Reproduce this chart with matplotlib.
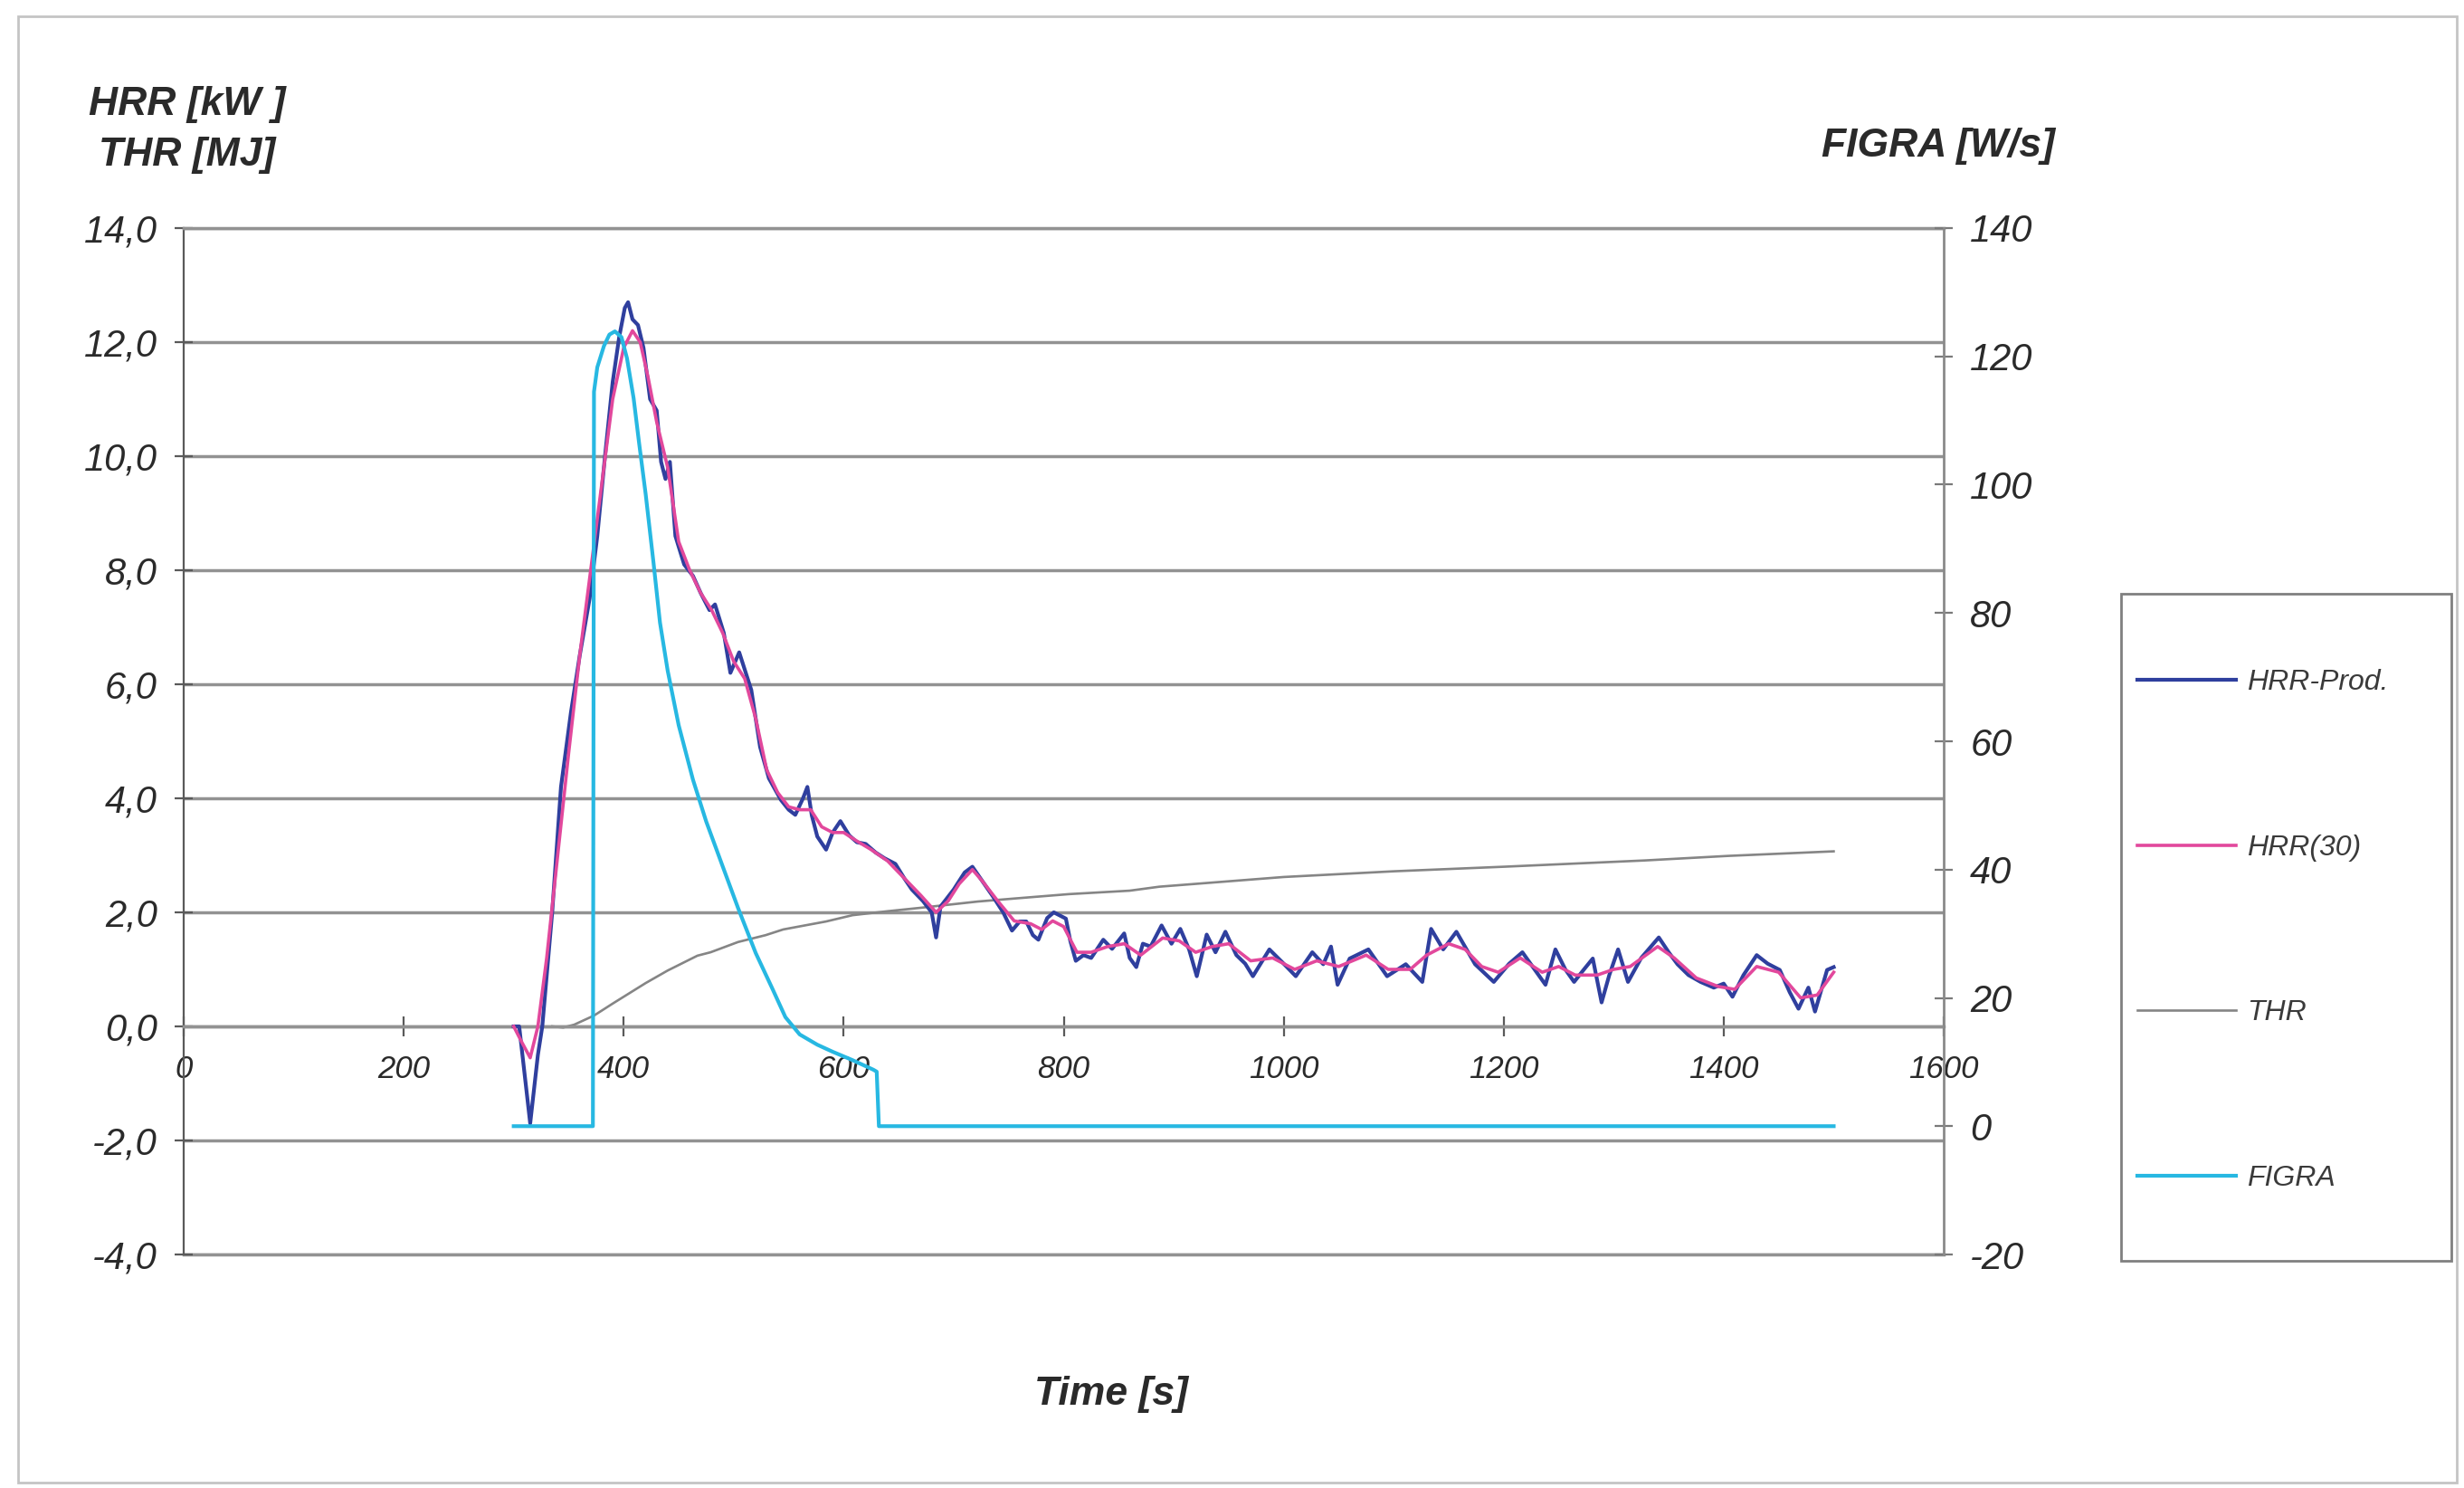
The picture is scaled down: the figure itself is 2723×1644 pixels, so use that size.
import matplotlib
matplotlib.use('Agg')
import matplotlib.pyplot as plt
from matplotlib.ticker import FuncFormatter, MultipleLocator
from matplotlib.patches import Rectangle

plt.rcParams['font.family'] = ['Liberation Sans', 'DejaVu Sans']
plt.rcParams['font.style'] = 'italic'

# ---------------- data ----------------
hrr_t = [300, 305, 315, 322, 326, 335, 343, 352, 360, 369, 376, 383, 390, 396, 401, 404, 408,
         413, 418, 424, 430, 434, 438, 442, 447, 455, 463, 470, 478, 483, 491, 497, 505, 511,
         516, 524, 532, 543, 550, 556, 563, 567, 571, 576, 584, 590, 597, 605, 612, 620, 629,
         637, 647, 655, 662, 672, 680, 684, 688, 700, 710, 717, 726, 736, 745, 753, 760, 766,
         772, 777, 785, 791, 802, 806, 811, 818, 825, 836, 844, 855, 860, 866, 872, 879, 889,
         898, 906, 914, 921, 930, 938, 947, 957, 965, 972, 987, 1000, 1011, 1026, 1036, 1043,
         1049, 1060, 1077, 1094, 1111, 1126, 1134, 1145, 1157, 1174, 1191, 1205, 1217, 1228,
         1238, 1247, 1256, 1264, 1273, 1281, 1289, 1296, 1304, 1313, 1325, 1341, 1350, 1358,
         1368, 1379, 1391, 1400, 1408, 1418, 1430, 1440, 1451, 1460, 1468, 1477, 1483, 1494,
         1500]
hrr_prod = [0.0, 0.0, -1.7, -0.5, 0.0, 2.0, 4.2, 5.5, 6.5, 7.5, 8.6, 10.0, 11.3, 12.1, 12.6,
            12.7, 12.4, 12.3, 11.9, 11.0, 10.8, 9.9, 9.6, 9.9, 8.6, 8.1, 7.9, 7.6, 7.3, 7.4,
            6.9, 6.2, 6.56, 6.2, 5.9, 4.9, 4.35, 3.97, 3.8, 3.71, 4.0, 4.2, 3.7, 3.33, 3.1, 3.4,
            3.6, 3.35, 3.23, 3.2, 3.05, 2.95, 2.85, 2.6, 2.4, 2.2, 2.0, 1.56, 2.1, 2.4, 2.7,
            2.8, 2.55, 2.27, 2.0, 1.68, 1.84, 1.84, 1.6, 1.52, 1.9, 2.0, 1.89, 1.5, 1.15, 1.25,
            1.2, 1.52, 1.36, 1.63, 1.2, 1.04, 1.45, 1.4, 1.77, 1.45, 1.71, 1.35, 0.88, 1.61,
            1.3, 1.66, 1.25, 1.1, 0.88, 1.35, 1.1, 0.88, 1.3, 1.09, 1.4, 0.73, 1.19, 1.35, 0.88,
            1.09, 0.78, 1.71, 1.35, 1.66, 1.09, 0.78, 1.1, 1.3, 1.0, 0.73, 1.35, 1.0, 0.78, 1.0,
            1.19, 0.42, 0.9, 1.35, 0.78, 1.2, 1.56, 1.3, 1.09, 0.9, 0.78, 0.68, 0.75, 0.52, 0.9,
            1.25, 1.1, 0.99, 0.6, 0.31, 0.68, 0.26, 0.99, 1.04]

hrr30_t = [300, 308, 315, 322, 330, 340, 350, 360, 370, 380, 390, 400, 408, 415, 422, 430, 440,
           450, 460, 470, 480, 490, 500, 510, 520, 530, 540, 550, 560, 570, 580, 590, 600, 612,
           625, 640, 655, 670, 684, 695, 705, 717, 726, 740, 755, 770, 780, 790, 800, 812, 825,
           840, 855, 870, 890, 905, 920, 935, 950, 970, 990, 1010, 1030, 1050, 1075, 1095, 1115,
           1130, 1150, 1165, 1180, 1195, 1215, 1235, 1250, 1265, 1285, 1300, 1315, 1340, 1355,
           1375, 1395, 1410, 1430, 1450, 1470, 1485, 1500]
hrr30 = [0.0, -0.3, -0.55, 0.0, 1.2, 3.0, 4.8, 6.5, 8.0, 9.5, 11.0, 11.9, 12.2, 12.0, 11.4, 10.6,
         9.8, 8.5, 8.0, 7.6, 7.3, 6.9, 6.4, 6.1, 5.4, 4.5, 4.1, 3.85, 3.8, 3.8, 3.5, 3.4, 3.4,
         3.25, 3.1, 2.9, 2.6, 2.3, 2.0, 2.2, 2.5, 2.75, 2.55, 2.2, 1.85, 1.8, 1.7, 1.85, 1.75,
         1.3, 1.3, 1.4, 1.45, 1.25, 1.55, 1.5, 1.3, 1.4, 1.45, 1.15, 1.2, 1.0, 1.15, 1.05, 1.25,
         1.0, 1.0, 1.25, 1.45, 1.35, 1.05, 0.95, 1.2, 0.95, 1.05, 0.9, 0.9, 1.0, 1.05, 1.4, 1.2,
         0.85, 0.7, 0.65, 1.05, 0.95, 0.5, 0.55, 0.95]

thr_t = [335, 345, 355, 373, 390, 405, 420, 440, 467, 479, 504, 529, 545, 584, 608, 640, 670,
         722, 760, 805, 860, 887, 1000, 1100, 1200, 1328, 1404, 1500]
thr = [0.0, -0.02, 0.03, 0.19, 0.4, 0.58, 0.76, 0.98, 1.24, 1.3, 1.48, 1.6, 1.7, 1.84, 1.95,
       2.02, 2.08, 2.19, 2.25, 2.32, 2.38, 2.45, 2.62, 2.72, 2.8, 2.91, 2.99, 3.07]

figra_t = [300, 372, 373, 376, 382, 387, 392, 398, 403, 409, 414, 420, 427, 433, 440, 450, 463,
           475, 490, 504, 520, 535, 547, 560, 576, 590, 608, 627, 630, 632, 1500]
figra = [0, 0, 114.5, 118.3, 121.6, 123.4, 123.9, 123.0, 119.7, 113.5, 106.5, 98.5, 88.0, 78.5,
         71.0, 62.5, 54.0, 47.5, 40.5, 34.0, 27.0, 21.5, 17.0, 14.3, 12.7, 11.6, 10.3, 8.8, 8.5,
         0, 0]

labels = ['HRR-Prod.', 'HRR(30)', 'THR', 'FIGRA']
x_ticks = [0, 200, 400, 600, 800, 1000, 1200, 1400, 1600]

# ---------------- styling ----------------
c_blue = '#2f3f9e'
c_pink = '#e2489c'
c_gray = '#858585'
c_cyan = '#27b8e2'
grid_c = '#929292'
txt_c = '#2a2a2a'

W, H = 2723, 1644
fig = plt.figure(figsize=(W / 100, H / 100), dpi=100)
fig.patch.set_facecolor('white')

# outer chart frame
fig.patches.append(Rectangle((20 / W, 6 / H), 2695 / W, 1620 / H,
                             transform=fig.transFigure, fill=False,
                             edgecolor='#c4c4c4', lw=2.0))
# legend frame
fig.patches.append(Rectangle((2344 / W, 1 - 1393 / H), 365 / W, 737 / H,
                             transform=fig.transFigure, fill=False,
                             edgecolor='#808080', lw=2.0))

ax = fig.add_axes([203 / W, 1 - 1386 / H, 1945 / W, 1134 / H])
ax2 = ax.twinx()

ax.set_xlim(0, 1600)
ax.set_ylim(-4, 14)
ax2.set_ylim(-20, 140)

ax.set_axisbelow(True)
ax.yaxis.set_major_locator(MultipleLocator(2))
ax.yaxis.set_major_formatter(FuncFormatter(lambda v, p: f"{v:.1f}".replace('.', ',')))
ax.set_xticks(x_ticks)
ax.set_xticklabels([str(v) for v in x_ticks])
ax2.yaxis.set_major_locator(MultipleLocator(20))
ax2.yaxis.set_major_formatter(FuncFormatter(lambda v, p: f"{int(round(v))}"))

ax.grid(axis='y', color=grid_c, lw=2.5)
ax.grid(axis='x', visible=False)
ax.axhline(-4, color=grid_c, lw=2.5, clip_on=False, zorder=0.5)

# spines
ax.spines['top'].set_color(grid_c)
ax.spines['top'].set_linewidth(2.5)
ax.spines['right'].set_visible(False)
ax.spines['left'].set_color('#5a5a5a')
ax.spines['left'].set_linewidth(1.6)
ax.spines['bottom'].set_position(('data', 0))
ax.spines['bottom'].set_color(grid_c)
ax.spines['bottom'].set_linewidth(2.5)
for s in ['top', 'bottom', 'left']:
    ax2.spines[s].set_visible(False)
ax2.spines['right'].set_color('#8a8a8a')
ax2.spines['right'].set_linewidth(2.0)

ax.tick_params(axis='y', direction='inout', length=14, width=1.6, color='#5a5a5a',
               labelsize=30, labelcolor=txt_c, pad=14)
ax.tick_params(axis='x', direction='inout', length=16, width=1.6, color='#5a5a5a',
               labelsize=25, labelcolor=txt_c, pad=14)
ax2.tick_params(axis='y', direction='inout', length=14, width=1.6, color='#7a7a7a',
                labelsize=30, labelcolor=txt_c, pad=14)

# series
l_thr, = ax.plot(thr_t, thr, color=c_gray, lw=1.9, label=labels[2], zorder=2)
l_prod, = ax.plot(hrr_t, hrr_prod, color=c_blue, lw=3.0, label=labels[0], zorder=3)
l_30, = ax.plot(hrr30_t, hrr30, color=c_pink, lw=2.6, label=labels[1], zorder=4)
l_fig, = ax2.plot(figra_t, figra, color=c_cyan, lw=3.0, label=labels[3], zorder=5)

# axis titles
tkw = dict(ha='center', va='center', fontsize=32, fontweight='bold', color=txt_c)
fig.text(207 / W, 1 - 115 / H, 'HRR [kW ]', **tkw)
fig.text(207 / W, 1 - 172 / H, 'THR [MJ]', **tkw)
fig.text(2142 / W, 1 - 161 / H, 'FIGRA [W/s]', **tkw)
fig.text(1228 / W, 1 - 1540 / H, 'Time [s]', **tkw)

# legend (entries; frame drawn above)
leg = fig.legend([l_prod, l_30, l_thr, l_fig], labels,
                 loc='upper left', bbox_to_anchor=(2362 / W, 1 - 739 / H),
                 fontsize=23, frameon=False, borderpad=0,
                 labelspacing=4.78, handlelength=3.4, handletextpad=0.38,
                 borderaxespad=0)
for t in leg.get_texts():
    t.set_color('#3a3a3a')

fig.savefig('out.png', dpi=100, facecolor='white')
